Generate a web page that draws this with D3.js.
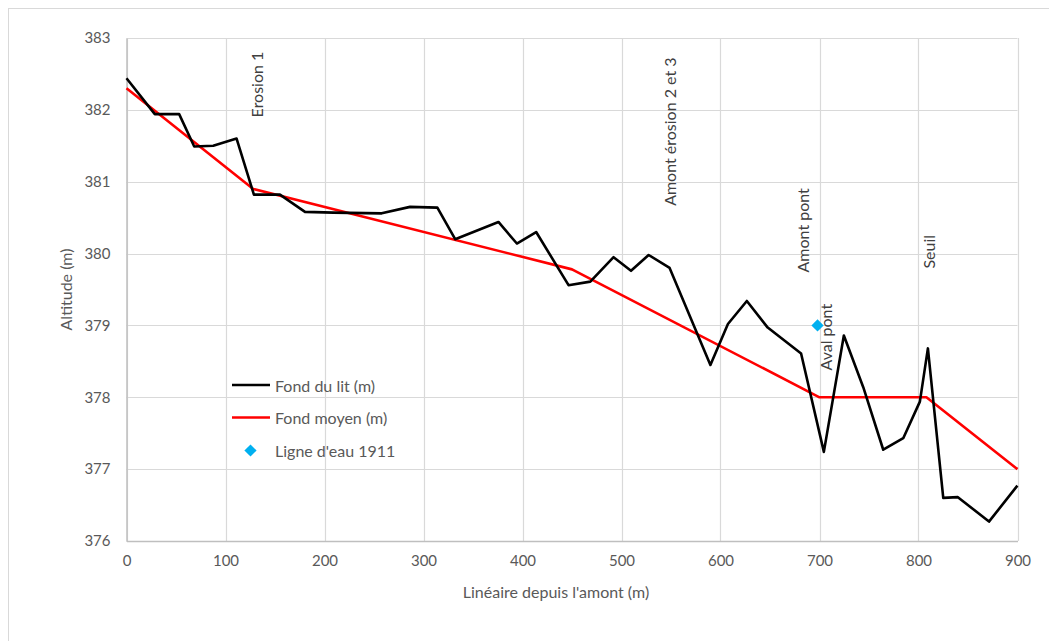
<!DOCTYPE html>
<html>
<head>
<meta charset="utf-8">
<script src="https://cdn.jsdelivr.net/npm/d3@7"></script>
<style>
  html, body { margin: 0; padding: 0; background: #fff; }
  svg { display: block; font-family: Lato, "Open Sans", sans-serif; }
</style>
</head>
<body>
<svg id="chart" width="1049" height="641"></svg>
<script>
// Profil en long : distance depuis l'amont (m) et altitude (m)
const litDistance = [0, 28.6, 53.2, 68.4, 87.6, 111.2, 128.7, 155, 180.3, 208.9, 257.8, 286.4, 314,
  332, 375.7, 394.3, 413.8, 446.5, 468.5, 492, 509.6, 527.4, 548.6, 589.8, 607.5, 626.6, 647.7, 681.4,
  704.4, 724.6, 744.2, 764.4, 784.6, 801.4, 809.5, 825, 839.8, 871.2, 899.9];
const litAltitude = [382.44, 381.94, 381.94, 381.49, 381.5, 381.6, 380.82, 380.82, 380.58, 380.57, 380.56, 380.65, 380.64,
  380.2, 380.44, 380.14, 380.3, 379.56, 379.61, 379.95, 379.76, 379.98, 379.8, 378.45, 379.02, 379.34, 378.97, 378.61,
  377.24, 378.86, 378.14, 377.27, 377.43, 377.94, 378.68, 376.6, 376.61, 376.27, 376.77];

const moyenDistance = [0, 128, 450, 700, 808, 900];
const moyenAltitude = [382.3, 380.9, 379.78, 378.0, 378.0, 377.0];

const eauDistance = [698];
const eauAltitude = [379.0];

const xTicks = [0, 100, 200, 300, 400, 500, 600, 700, 800, 900];
const yTicks = [376, 377, 378, 379, 380, 381, 382, 383];

const annotLabels = ["Erosion 1", "Amont érosion 2 et 3", "Amont pont", "Aval pont", "Seuil"];
const annotDistance = [131, 548.6, 683, 706, 810.5];
const annotAltitude = [382.81, 382.73, 380.91, 379.3, 380.26];

const legendLabels = ["Fond du lit (m)", "Fond moyen (m)", "Ligne d'eau 1911"];

const svg = d3.select("#chart");
const margin = { left: 126.5, top: 38, right: 1049 - 1017.5, bottom: 641 - 541 };
const W = 1049, H = 641;

const x = d3.scaleLinear().domain([0, 900]).range([margin.left, W - margin.right]);
const y = d3.scaleLinear().domain([376, 383]).range([H - margin.bottom, margin.top]);

// cadre de la zone graphique
svg.append("rect")
  .attr("x", 8.5).attr("y", 8.5).attr("width", 1060).attr("height", 660)
  .attr("fill", "#fff").attr("stroke", "#d9d9d9").attr("stroke-width", 1);

// quadrillage
const grid = svg.append("g");
grid.selectAll("line.h").data(yTicks).join("line")
  .attr("x1", x(0)).attr("x2", x(900))
  .attr("y1", d => Math.round(y(d)) + 0.5).attr("y2", d => Math.round(y(d)) + 0.5)
  .attr("stroke", "#d9d9d9").attr("stroke-width", 1.2);
grid.selectAll("line.v").data(xTicks).join("line")
  .attr("y1", y(376)).attr("y2", y(383))
  .attr("x1", d => Math.round(x(d)) + 0.5).attr("x2", d => Math.round(x(d)) + 0.5)
  .attr("stroke", "#d9d9d9").attr("stroke-width", 1.2);

// axes
const xAxis = svg.append("g")
  .attr("transform", `translate(0,${y(376)})`)
  .call(d3.axisBottom(x).tickValues(xTicks).tickSize(0).tickPadding(14).tickFormat(d3.format("d")));
const yAxis = svg.append("g")
  .attr("transform", `translate(${x(0)},0)`)
  .call(d3.axisLeft(y).tickValues(yTicks).tickSize(0).tickPadding(16).tickFormat(d3.format("d")));
[xAxis, yAxis].forEach(a => {
  a.select(".domain").attr("stroke", "#bfbfbf").attr("stroke-width", 1.5);
  a.selectAll("text").attr("fill", "#595959").attr("font-size", 15)
    .attr("font-family", "Lato, 'Open Sans', sans-serif");
});

svg.append("text")
  .attr("x", 556).attr("y", 598)
  .attr("text-anchor", "middle").attr("fill", "#595959").attr("font-size", 16)
  .text("Linéaire depuis l'amont (m)");
svg.append("text")
  .attr("transform", `translate(72,${(y(376) + y(383)) / 2}) rotate(-90)`)
  .attr("text-anchor", "middle").attr("fill", "#595959").attr("font-size", 16)
  .text("Altitude (m)");

// séries
const line = d3.line().x(d => x(d[0])).y(d => y(d[1]));
svg.append("path")
  .datum(moyenDistance.map((d, i) => [d, moyenAltitude[i]]))
  .attr("d", line).attr("fill", "none").attr("stroke", "#ff0000")
  .attr("stroke-width", 2.6).attr("stroke-linejoin", "round");
svg.append("path")
  .datum(litDistance.map((d, i) => [d, litAltitude[i]]))
  .attr("d", line).attr("fill", "none").attr("stroke", "#000")
  .attr("stroke-width", 2.6).attr("stroke-linejoin", "round");

const diamond = d3.symbol().type(d3.symbolDiamond2).size(95);
svg.selectAll("path.eau").data(eauDistance.map((d, i) => [d, eauAltitude[i]])).join("path")
  .attr("class", "eau")
  .attr("transform", d => `translate(${x(d[0])},${y(d[1])})`)
  .attr("d", diamond).attr("fill", "#00b0f0");

// annotations verticales
svg.selectAll("text.annot").data(annotLabels).join("text")
  .attr("class", "annot")
  .attr("transform", (d, i) => `translate(${x(annotDistance[i])},${y(annotAltitude[i])}) rotate(-90)`)
  .attr("text-anchor", "end").attr("dominant-baseline", "central")
  .attr("fill", "#404040").attr("font-size", 16)
  .text(d => d);

// légende
const lg = svg.append("g");
const legendY = [385, 417.5, 450.5];
lg.append("line").attr("x1", 232).attr("x2", 270).attr("y1", legendY[0]).attr("y2", legendY[0])
  .attr("stroke", "#000").attr("stroke-width", 2.6);
lg.append("line").attr("x1", 232).attr("x2", 270).attr("y1", legendY[1]).attr("y2", legendY[1])
  .attr("stroke", "#ff0000").attr("stroke-width", 2.6);
lg.append("path").attr("transform", `translate(250.5,${legendY[2]})`)
  .attr("d", diamond).attr("fill", "#00b0f0");
lg.selectAll("text").data(legendLabels).join("text")
  .attr("x", 275).attr("y", (d, i) => legendY[i])
  .attr("dominant-baseline", "central")
  .attr("fill", "#595959").attr("font-size", 16)
  .text(d => d);
</script>
</body>
</html>
